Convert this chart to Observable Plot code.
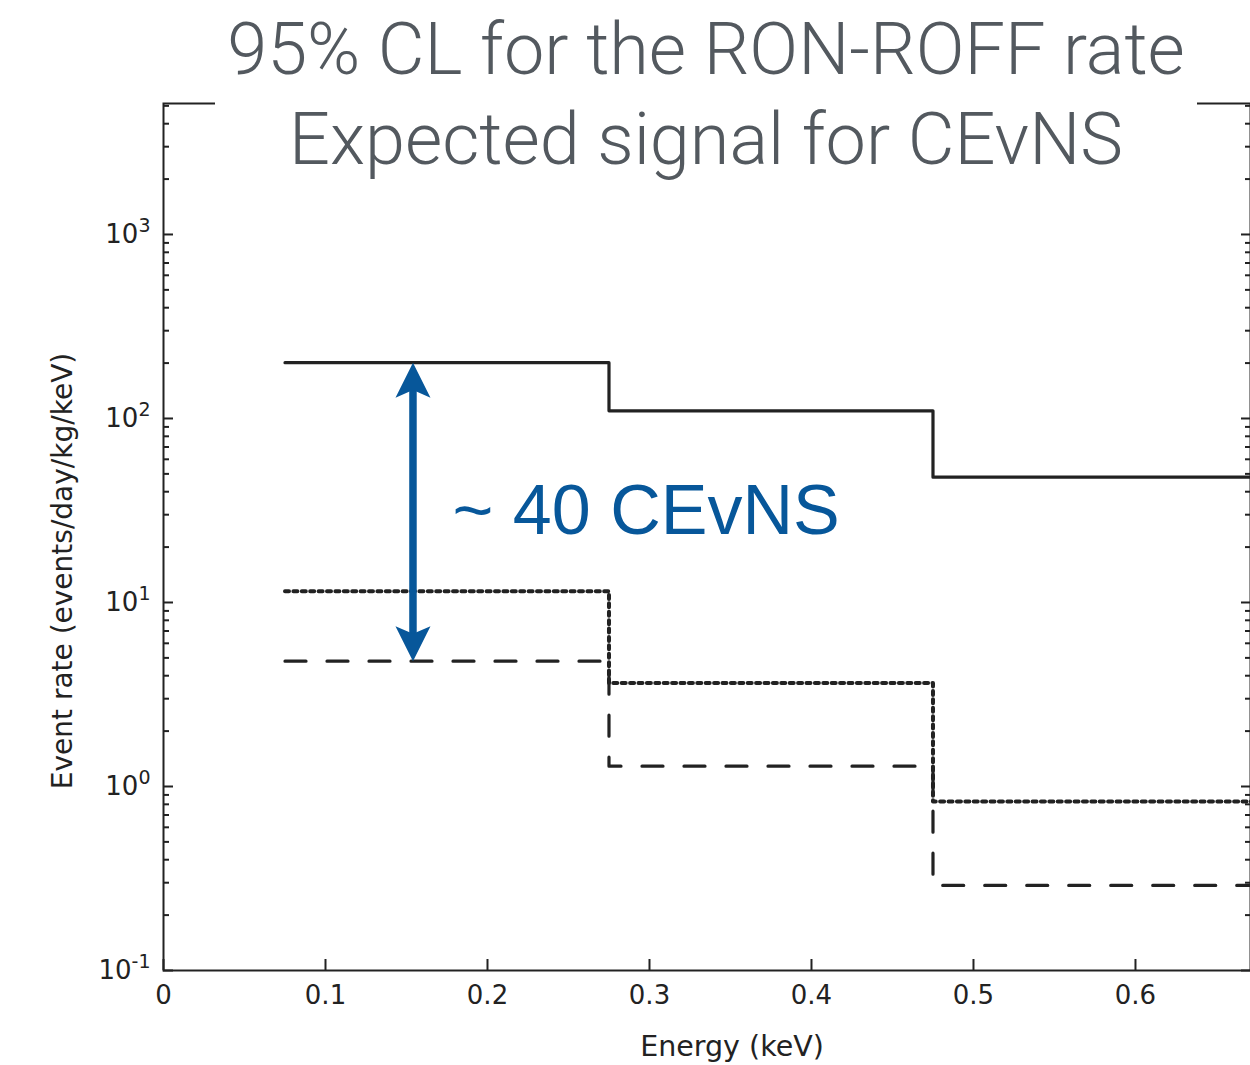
<!DOCTYPE html>
<html>
<head>
<meta charset="utf-8">
<script src="https://cdn.jsdelivr.net/npm/d3@7"></script>
<script src="https://cdn.jsdelivr.net/npm/@observablehq/plot@0.6"></script>
<style>
  html, body { margin: 0; padding: 0; background: #fff; overflow: hidden; }
  #wrap { position: relative; width: 1250px; height: 1065px; }
  #title {
    position: absolute; left: 215px; top: 0; width: 982px; height: 186px;
    background: #fff; color: #53595f; text-align: center;
    font-family: Roboto, "Open Sans", sans-serif; font-weight: 300;
  }
  #title div { position: absolute; left: 0; width: 100%; white-space: nowrap; }
</style>
</head>
<body>
<div id="wrap">
  <div id="chart"></div>
  <div id="title"></div>
</div>
<script>
// ---- data ----
const binEdges = [0.075, 0.275, 0.475, 0.675];            // keV
const ronRoff95CL = [201, 110, 48];                         // solid: 95% CL for RON-ROFF rate
const signalDotted = [11.5, 3.65, 0.83];                    // dotted: expected signal (upper)
const signalCEvNS = [4.8, 1.29, 0.29];                      // dashed: expected CEvNS signal
const xTicks = [0, 0.1, 0.2, 0.3, 0.4, 0.5, 0.6];
const yMajorTicks = [0.1, 1, 10, 100, 1000];
const yMinorTicks = [0.2,0.3,0.4,0.5,0.6,0.7,0.8,0.9, 2,3,4,5,6,7,8,9, 20,30,40,50,60,70,80,90, 200,300,400,500,600,700,800,900, 2000,3000,4000,5000];
const titleLines = ["95% CL for the RON-ROFF rate", "Expected signal for CEvNS"];
const xLabel = "Energy (keV)";
const yLabel = "Event rate (events/day/kg/keV)";
const annotationText = "~ 40 CEvNS";
const annotationX = 0.1784, annotationY = 31;
const arrowX = 0.154;

// ---- build step rows ----
function stepRows(vals) {
  return binEdges.map((e, i) => ({x: e, y: vals[Math.min(i, vals.length - 1)]}));
}
const blue = "#07579a";
const ink = "#222";

// custom filled arrowhead symbols (tip at origin)
const headUp = { draw(ctx, size) { const r = Math.sqrt(size / Math.PI);
  ctx.moveTo(0, 0); ctx.lineTo(r * 0.5, r); ctx.lineTo(0, r * 0.78); ctx.lineTo(-r * 0.5, r); ctx.closePath(); } };
const headDown = { draw(ctx, size) { const r = Math.sqrt(size / Math.PI);
  ctx.moveTo(0, 0); ctx.lineTo(r * 0.5, -r); ctx.lineTo(0, -r * 0.78); ctx.lineTo(-r * 0.5, -r); ctx.closePath(); } };

const plot = Plot.plot({
  width: 1250, height: 1065,
  marginLeft: 163, marginRight: 0, marginTop: 103, marginBottom: 95,
  style: {fontFamily: "'DejaVu Sans', sans-serif", fontSize: "26px", color: ink, background: "#fff", overflow: "visible"},
  x: {domain: [0, 0.671]},
  y: {type: "log", domain: [0.1, 5150]},
  marks: [
    Plot.axisX(xTicks, {tickSize: -11, tickPadding: 26, tickFormat: d => d === 0 ? "0" : d3.format(".1f")(d), label: null, stroke: ink, strokeWidth: 2}),
    Plot.axisY(yMajorTicks, {anchor: "left", tickSize: -10, tickPadding: 23, tickFormat: d => "10^" + Math.round(Math.log10(d)), label: null, stroke: ink, strokeWidth: 2}),
    Plot.axisY(yMinorTicks, {anchor: "left", tickSize: -6, tickFormat: () => "", label: null, stroke: ink, strokeWidth: 2}),
    Plot.axisY(yMajorTicks, {anchor: "right", tickSize: -10, tickFormat: () => "", label: null, stroke: ink, strokeWidth: 2}),
    Plot.axisY(yMinorTicks, {anchor: "right", tickSize: -6, tickFormat: () => "", label: null, stroke: ink, strokeWidth: 2}),
    Plot.frame({stroke: ink, strokeWidth: 2}),
    Plot.line(stepRows(ronRoff95CL), {x: "x", y: "y", curve: "step-after", stroke: ink, strokeWidth: 3.2, clip: true}),
    Plot.line(stepRows(signalDotted), {x: "x", y: "y", curve: "step-after", stroke: ink, strokeWidth: 4, strokeDasharray: "4,4.4", clip: true}),
    Plot.line(stepRows(signalCEvNS), {x: "x", y: "y", curve: "step-after", stroke: ink, strokeWidth: 3.2, strokeDasharray: "21,21", clip: true}),
    Plot.ruleX([arrowX], {x: d => d, y1: ronRoff95CL[0], y2: signalCEvNS[0], stroke: blue, strokeWidth: 7.5, insetTop: 20, insetBottom: 20}),
    Plot.dot([arrowX], {x: d => d, y: ronRoff95CL[0], symbol: headUp, r: 35, fill: blue, stroke: "none"}),
    Plot.dot([arrowX], {x: d => d, y: signalCEvNS[0], symbol: headDown, r: 35, fill: blue, stroke: "none"}),
    Plot.text([annotationText], {x: annotationX, y: annotationY, text: d => d, textAnchor: "start", fill: blue, fontSize: 70, fontFamily: "'Liberation Sans', Arial, sans-serif"}),
    Plot.text([xLabel], {frameAnchor: "bottom", text: d => d, textAnchor: "middle", lineAnchor: "middle", dx: 25, dy: 76, fontSize: 28.5, fill: ink}),
    Plot.text([yLabel], {frameAnchor: "left", text: d => d, textAnchor: "middle", lineAnchor: "middle", rotate: -90, dx: -100, dy: 34, fontSize: 28, fill: ink})
  ]
});
document.getElementById("chart").appendChild(plot);

// superscript exponents on the y tick labels
plot.querySelectorAll("text").forEach(t => {
  const s = t.textContent;
  if (s.startsWith("10^")) {
    const exp = s.slice(3);
    t.textContent = "";
    const base = document.createElementNS("http://www.w3.org/2000/svg", "tspan");
    base.textContent = "10";
    const sup = document.createElementNS("http://www.w3.org/2000/svg", "tspan");
    sup.textContent = exp;
    sup.setAttribute("dy", "-11");
    sup.setAttribute("font-size", "19");
    t.appendChild(base); t.appendChild(sup);
  }
});

// title overlay
const title = document.getElementById("title");
const tops = [10, 100];
titleLines.forEach((line, i) => {
  const d = document.createElement("div");
  d.textContent = line;
  d.style.top = tops[i] + "px";
  d.style.fontSize = "72px";
  d.style.lineHeight = "80px";
  title.appendChild(d);
});
</script>
</body>
</html>
